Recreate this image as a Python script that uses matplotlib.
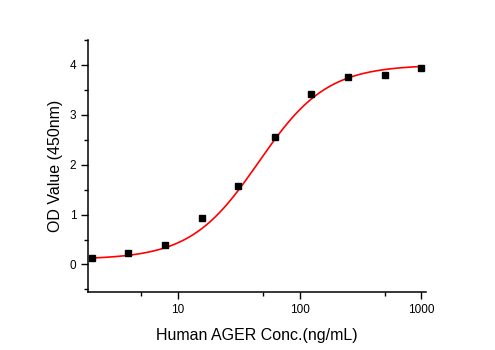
import numpy as np
import matplotlib
matplotlib.use("Agg")
import matplotlib.pyplot as plt
from matplotlib.ticker import FixedLocator, NullFormatter

# standard points (ng/mL) and measured OD
conc = [1.95, 3.9, 7.8, 15.6, 31.25, 62.5, 125, 250, 500, 1000]
od = [0.12, 0.22, 0.38, 0.93, 1.57, 2.55, 3.42, 3.76, 3.80, 3.94]

# 4PL fit parameters
fit_bottom = 0.10
fit_top = 4.00
fit_ec50 = 46.0
fit_hill = 1.55

xticks = [10, 100, 1000]
xminor = [5, 50, 500]
yticks = [0, 1, 2, 3, 4]

plt.rcParams['font.family'] = ['Liberation Sans', 'DejaVu Sans']

fig = plt.figure(figsize=(4.95, 3.5), dpi=100)
ax = fig.add_axes([0.178, 0.166, 0.683, 0.72])

xs = np.logspace(np.log10(conc[0]), np.log10(conc[-1]), 300)
ys = fit_bottom + (fit_top - fit_bottom) / (1 + (fit_ec50 / xs) ** fit_hill)
ax.plot(xs, ys, color="red", lw=1.2, zorder=2)
ax.plot(conc, od, "s", color="black", ms=4.3, zorder=3)

ax.set_xscale("log")
ax.set_xlim(1.82, 1100)
ax.set_ylim(-0.55, 4.5)

ax.xaxis.set_major_locator(FixedLocator(xticks))
ax.set_xticklabels([str(t) for t in xticks])
ax.xaxis.set_minor_locator(FixedLocator(xminor))
ax.xaxis.set_minor_formatter(NullFormatter())
ax.set_yticks(yticks)
ax.yaxis.set_minor_locator(FixedLocator(np.arange(-0.5, 4.6, 1.0)))

for s in ["top", "right"]:
    ax.spines[s].set_visible(False)
for s in ["left", "bottom"]:
    ax.spines[s].set_linewidth(1.1)

ax.tick_params(which="major", length=5, width=1.0, labelsize=8.5, direction="out")
ax.tick_params(which="minor", length=3, width=1.0, direction="out")

ax.set_xlabel("Human AGER Conc.(ng/mL)", fontsize=11.5, labelpad=9)
ax.set_ylabel("OD Value (450nm)", fontsize=11.5, labelpad=5)

fig.savefig("out.png", dpi=100)
